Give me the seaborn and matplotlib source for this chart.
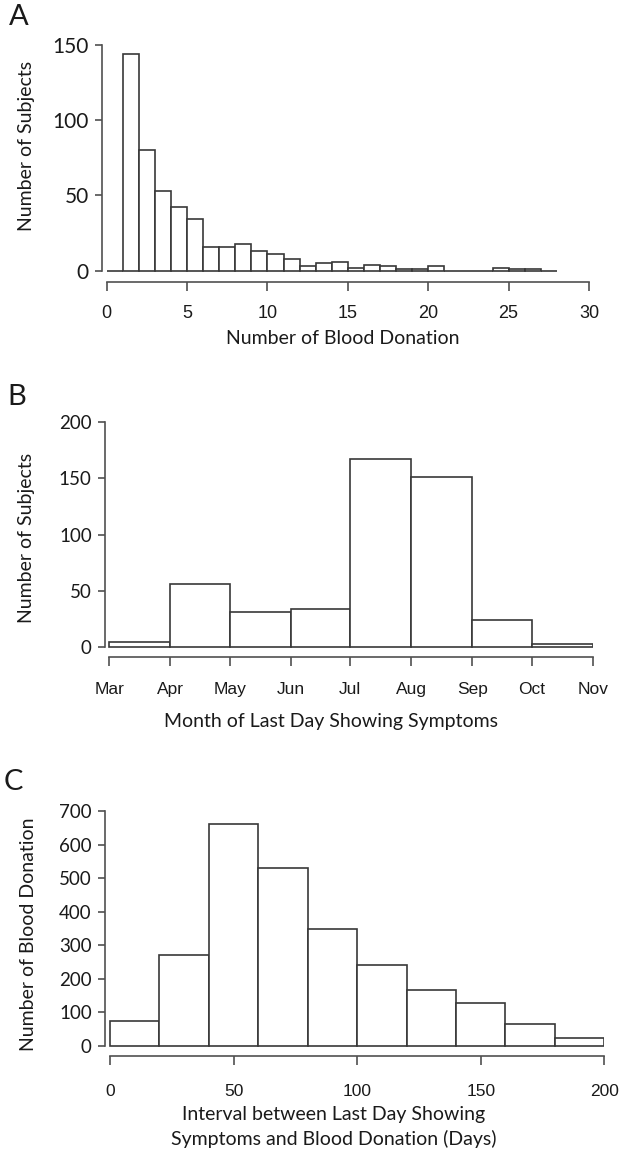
import numpy as np
import pandas as pd
import matplotlib
matplotlib.use("Agg")
import matplotlib.pyplot as plt
import seaborn as sns

# ---------------- data ----------------
donation_edges = list(range(0, 29))
donation_counts = [0, 144, 80, 53, 42, 34, 16, 16, 18, 13, 11, 8, 3, 5, 6,
                   2, 4, 3, 1, 1, 3, 0, 0, 0, 2, 1, 1, 0]
donation_ticks = [0, 5, 10, 15, 20, 25, 30]
donation_yticks = [0, 50, 100, 150]

month_labels = ["Mar", "Apr", "May", "Jun", "Jul", "Aug", "Sep", "Oct", "Nov"]
month_lengths = [31, 30, 31, 30, 31, 31, 30, 31]          # Mar .. Oct
month_counts = [4, 56, 31, 34, 167, 151, 24, 2]
month_yticks = [0, 50, 100, 150, 200]

interval_edges = list(range(0, 201, 20))
interval_counts = [75, 269, 660, 530, 348, 240, 165, 128, 65, 23]
interval_ticks = [0, 50, 100, 150, 200]
interval_yticks = [0, 100, 200, 300, 400, 500, 600, 700]

# ---------------- style ----------------
sns.set_theme(style="white")
plt.rcParams["font.family"] = ["Lato", "DejaVu Sans"]

LABEL_FONT = ["Lato", "DejaVu Sans"]
TICK_FONT = ["Liberation Sans", "DejaVu Sans"]
AX_COL = "#505050"
EDGE_COL = "#383838"
TXT_COL = "#1a1a1a"

W, H = 629, 1157
fig = plt.figure(figsize=(W / 100, H / 100), dpi=100)


def add_axes_px(left, right, top, bottom):
    return fig.add_axes([left / W, 1 - bottom / H, (right - left) / W, (bottom - top) / H])


def style_axis(ax, xticks, yticks, xlabels, xoff_pt, ytick_size, xtick_size, xpad):
    for s in ["top", "right"]:
        ax.spines[s].set_visible(False)
    for s in ["left", "bottom"]:
        ax.spines[s].set_color(AX_COL)
        ax.spines[s].set_linewidth(1.2)
    ax.spines["left"].set_bounds(yticks[0], yticks[-1])
    ax.spines["bottom"].set_bounds(xticks[0], xticks[-1])
    ax.spines["bottom"].set_position(("outward", xoff_pt))
    ax.set_yticks(yticks)
    ax.set_yticklabels([str(v) for v in yticks], fontfamily=LABEL_FONT,
                       fontsize=ytick_size, color=TXT_COL)
    ax.set_xticks(xticks)
    ax.set_xticklabels(xlabels, fontfamily=TICK_FONT, fontsize=xtick_size, color=TXT_COL)
    ax.tick_params(axis="y", direction="out", length=5, width=1.2, color=AX_COL, pad=4.5, left=True)
    ax.tick_params(axis="x", direction="out", length=6.8, width=1.2, color=AX_COL, pad=xpad, bottom=True)
    ax.grid(False)


def hist(ax, edges, counts):
    edges = [float(e) for e in edges]
    mids = [(a + b) / 2 for a, b in zip(edges[:-1], edges[1:])]
    df = pd.DataFrame({"x": mids, "w": [float(c) for c in counts]})
    sns.histplot(data=df, x="x", weights="w", bins=edges, ax=ax, stat="count",
                 color="white", edgecolor=EDGE_COL, linewidth=1.2, alpha=1)


# ---------------- Panel A ----------------
axA = add_axes_px(102, 589, 44.7, 273.7)
hist(axA, donation_edges, donation_counts)
axA.set_xlim(-0.29375, 30)
axA.set_ylim(-2, 150)
style_axis(axA, donation_ticks, donation_yticks, [str(v) for v in donation_ticks],
           6.2, 15, 13, 9.5)
axA.set_ylabel("Number of Subjects", fontsize=14, color=TXT_COL)
axA.set_xlabel("Number of Blood Donation", fontsize=14, color=TXT_COL)
axA.yaxis.label.set_va("center")
axA.xaxis.label.set_va("center")
axA.yaxis.set_label_coords((27 - 102) / 487, (273.7 - 146) / 229)
axA.xaxis.set_label_coords((342.5 - 102) / 487, (273.7 - 338) / 229)

# ---------------- Panel B ----------------
month_edges = [0] + list(np.cumsum(month_lengths))
axB = add_axes_px(105, 592.7, 422.3, 651.2)
hist(axB, month_edges, month_counts)
axB.set_xlim(-2.18, month_edges[-1])
axB.set_ylim(-4, 200)
style_axis(axB, month_edges, month_yticks, month_labels, 4.4, 13.5, 12.5, 11)
axB.set_ylabel("Number of Subjects", fontsize=14, color=TXT_COL)
axB.set_xlabel("Month of Last Day Showing Symptoms", fontsize=14, color=TXT_COL)
axB.yaxis.label.set_va("center")
axB.xaxis.label.set_va("center")
axB.yaxis.set_label_coords((27 - 105) / 487.7, (651.2 - 537.5) / 228.9)
axB.xaxis.set_label_coords((331 - 105) / 487.7, (651.2 - 721) / 228.9)

# ---------------- Panel C ----------------
axC = add_axes_px(105, 604.3, 811, 1050.7)
hist(axC, interval_edges, interval_counts)
axC.set_xlim(-2.02, 200)
axC.set_ylim(-15, 700)
style_axis(axC, interval_ticks, interval_yticks, [str(v) for v in interval_ticks],
           3.6, 13.5, 12.5, 13.5)
axC.set_ylabel("Number of Blood Donation", fontsize=14, color=TXT_COL)
axC.set_xlabel("Interval between Last Day Showing\nSymptoms and Blood Donation (Days)",
               fontsize=14, color=TXT_COL, linespacing=1.4)
axC.yaxis.label.set_va("center")
axC.xaxis.label.set_va("center")
axC.yaxis.set_label_coords((28 - 105) / 499.3, (1050.7 - 934) / 239.7)
axC.xaxis.set_label_coords((334 - 105) / 499.3, (1050.7 - 1127) / 239.7)

# ---------------- panel letters ----------------
for letter, xp, yp in [("A", 9, 4), ("B", 7, 384), ("C", 4, 769)]:
    fig.text(xp / W, 1 - yp / H, letter, fontsize=21, ha="left", va="top",
             color=TXT_COL, fontfamily=LABEL_FONT)

fig.savefig("out.png", dpi=100, facecolor="white")
